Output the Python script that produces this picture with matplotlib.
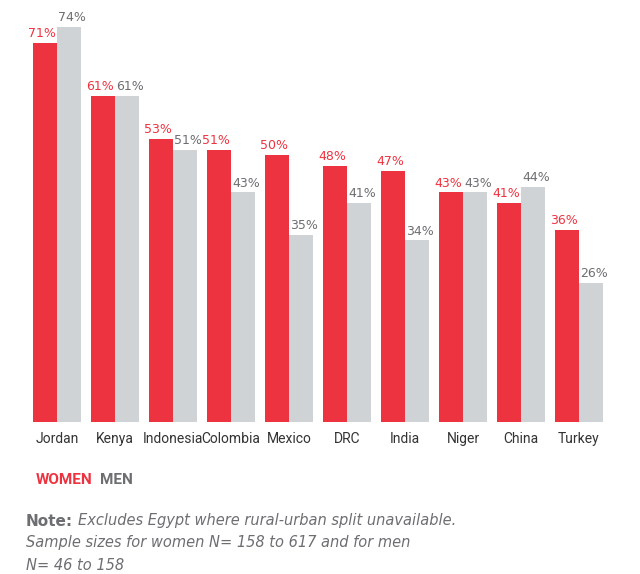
import numpy as np
import matplotlib.pyplot as plt

# Data
countries = ['Jordan', 'Kenya', 'Indonesia', 'Colombia', 'Mexico', 'DRC',
             'India', 'Niger', 'China', 'Turkey']
women = [71, 61, 53, 51, 50, 48, 47, 43, 41, 36]
men = [74, 61, 51, 43, 35, 41, 34, 43, 44, 26]

red = '#EE3340'
grey = '#D0D3D6'
text_grey = '#6D6E71'

fig = plt.figure(figsize=(6.4, 5.74), dpi=100)
ax = fig.add_axes([0, (574 - 422) / 574, 1, 422 / 574])

x = np.arange(len(countries))
w = 24 / 58
ax.bar(x - w / 2, women, width=w, color=red)
ax.bar(x + w / 2, men, width=w, color=grey)

# value labels, nudged apart a little so equal pairs don't collide
for xi, v in zip(x, women):
    ax.annotate(f'{v}%', (xi - w / 2, v), xytext=(-2, 2), textcoords='offset points',
                ha='center', va='bottom', color=red, fontsize=9, family='DejaVu Sans')
for xi, v in zip(x, men):
    ax.annotate(f'{v}%', (xi + w / 2, v), xytext=(2, 2), textcoords='offset points',
                ha='center', va='bottom', color=text_grey, fontsize=9, family='DejaVu Sans')

ax.set_xlim(-57 / 58, (640 - 57) / 58)
ax.set_ylim(0, 79)
ax.set_xticks(x)
ax.set_xticklabels(countries, fontsize=10, color='#333333', family='Roboto')
ax.tick_params(axis='x', length=0, pad=7)
ax.set_yticks([])
for s in ax.spines.values():
    s.set_visible(False)

# legend
fig.text(36 / 640, 1 - 480 / 574, 'WOMEN', color=red, fontsize=11, weight='bold',
         va='center', family='Roboto')
fig.text(100 / 640, 1 - 480 / 574, 'MEN', color=text_grey, fontsize=11, weight='bold',
         va='center', family='Roboto')

# note
r = fig.canvas.get_renderer()
note = fig.text(26 / 640, 1 - 521 / 574, 'Note:', color=text_grey, fontsize=11,
                weight='bold', va='center', family='DejaVu Sans')
bb = note.get_window_extent(renderer=r)
fig.text(bb.x1 / 640 + 5 / 640, 1 - 521 / 574,
         'Excludes Egypt where rural-urban split unavailable.',
         color=text_grey, fontsize=10.5, style='italic', va='center', family='DejaVu Sans')
fig.text(26 / 640, 1 - 543 / 574, 'Sample sizes for women N= 158 to 617 and for men',
         color=text_grey, fontsize=10.5, style='italic', va='center', family='DejaVu Sans')
fig.text(26 / 640, 1 - 565 / 574, 'N= 46 to 158',
         color=text_grey, fontsize=10.5, style='italic', va='center', family='DejaVu Sans')

plt.savefig('out.png')
